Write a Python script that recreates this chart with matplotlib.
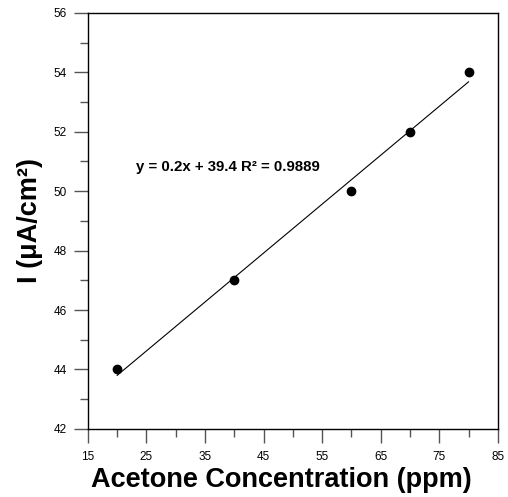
import numpy as np
import matplotlib.pyplot as plt

plt.rcParams['font.family'] = ['Liberation Sans', 'DejaVu Sans']

concentration = [20, 40, 60, 70, 80]
current = [44, 47, 50, 52, 54]
x_ticks = [15, 25, 35, 45, 55, 65, 75, 85]
y_ticks = [42, 44, 46, 48, 50, 52, 54, 56]
fit_label = "y = 0.2x + 39.4 R\u00b2 = 0.9889"

fig = plt.figure(figsize=(5.08, 4.97), dpi=100)
ax = fig.add_axes([0.173, 0.137, 0.807, 0.837])

# least squares line through the points
slope, intercept = np.polyfit(concentration, current, 1)
xfit = np.array([min(concentration), max(concentration)])
ax.plot(xfit, slope * xfit + intercept, color='black', lw=0.8)
ax.plot(concentration, current, 'o', color='black', ms=6)

ax.text(23.2, 50.8, fit_label, fontsize=10.8, fontweight='bold', va='center')

ax.set_xlim(15, 85)
ax.set_ylim(42, 56)
ax.set_xticks(x_ticks)
ax.set_yticks(y_ticks)
ax.set_xticks(np.arange(20, 85, 10), minor=True)
ax.set_yticks(np.arange(43, 56, 2), minor=True)
ax.tick_params(which='major', length=10, width=1, color='#555555', labelsize=8.5, direction='out')
ax.tick_params(axis='x', which='major', pad=6)
ax.tick_params(axis='y', which='major', pad=5)
ax.tick_params(which='minor', length=5.5, width=1, color='#555555', direction='out')
for s in ax.spines.values():
    s.set_linewidth(1)

ax.set_xlabel("Acetone Concentration (ppm)", fontsize=19.5, fontweight='bold')
ax.xaxis.set_label_coords(0.472, -0.092)
ax.set_ylabel("I (\u03bcA/cm\u00b2)", fontsize=19.5, fontweight='bold', labelpad=8)

fig.savefig("out.png", dpi=100)
